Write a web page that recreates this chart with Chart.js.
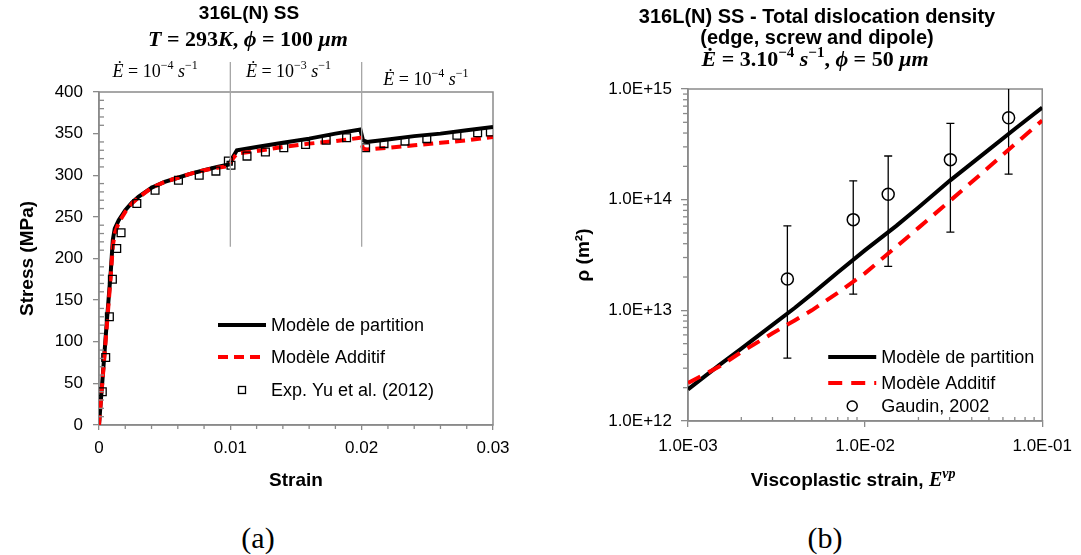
<!DOCTYPE html>
<html>
<head>
<meta charset="utf-8">
<script src="https://cdn.jsdelivr.net/npm/chart.js@4/dist/chart.umd.min.js"></script>
<style>
  html, body { margin: 0; padding: 0; background: #fff; width: 1081px; height: 555px; overflow: hidden; position: relative; }
  canvas { position: absolute; top: 0; }
  #stress { left: 0; }
  #density { left: 540px; }
  .lab { position: absolute; top: 521px; width: 80px; text-align: center; font: 30px 'Liberation Serif', serif; color: #000; }
</style>
</head>
<body>
<canvas id="stress" width="540" height="510"></canvas>
<canvas id="density" width="541" height="510"></canvas>
<div class="lab" style="left:218px">(a)</div>
<div class="lab" style="left:785px">(b)</div>
<script>
// (a) stress-strain, strain rate jumps at 0.01 and 0.02
const modelStrain = [0, 0.0003, 0.0006, 0.0009, 0.00105, 0.0012, 0.0015, 0.002, 0.0025, 0.003, 0.004, 0.005, 0.006, 0.007, 0.008, 0.009, 0.0099, 0.0102, 0.0105, 0.012, 0.014, 0.016, 0.018, 0.0199, 0.0201, 0.0204, 0.022, 0.024, 0.026, 0.028, 0.03]
const partitionStress = [0, 62, 125, 185, 222, 236, 246, 258, 267, 274, 285, 292, 297, 302, 306, 310, 313, 322, 330, 334, 339, 344, 350, 355, 342, 340, 343, 347, 350, 354, 358]
const additiveStress = [0, 60, 120, 180, 215, 230, 243, 256, 266, 273, 285, 292, 297, 302, 306, 309, 311, 320, 326, 329, 334, 338, 341, 345, 332, 331, 333, 336, 339, 342, 346]
const expStrain = [0.00025, 0.00051, 0.00079, 0.00102, 0.00135, 0.00168, 0.00288, 0.00427, 0.00605, 0.00763, 0.0089, 0.00985, 0.01005, 0.01127, 0.01267, 0.01407, 0.01573, 0.0173, 0.01885, 0.0203, 0.0217, 0.0233, 0.02496, 0.02725, 0.02883, 0.0298]
const expStress = [40, 81, 130, 175, 212, 231, 266, 282, 294, 300, 305, 317, 312, 323, 328, 333, 337, 342, 345, 333, 338, 341, 344, 348, 351, 352]
const rateLabels = ['10', '10', '10']
const rateExponents = ['−4', '−3', '−4']
const ratePositions = [0.00427, 0.01443, 0.02489]
const rateJumps = [0.01, 0.02]

// (b) total dislocation density, log-log
const rhoStrain = [0.001, 0.0015, 0.002, 0.003, 0.004, 0.005, 0.007, 0.01, 0.015, 0.02, 0.03, 0.05, 0.07, 0.1]
const rhoPartition = [1.93e12, 3.2e12, 4.5e12, 7.4e12, 1.05e13, 1.4e13, 2.2e13, 3.5e13, 5.8e13, 8.5e13, 1.48e14, 2.83e14, 4.35e14, 6.8e14]
const rhoAdditive = [2.2e12, 3.1e12, 4.2e12, 6.2e12, 8.1e12, 1.0e13, 1.44e13, 2.17e13, 3.76e13, 5.56e13, 9.7e13, 1.97e14, 3.16e14, 5.2e14]
const gaudinStrain = [0.00364, 0.00857, 0.0135, 0.0303, 0.0646]
const gaudinRho = [1.92e13, 6.6e13, 1.12e14, 2.3e14, 5.5e14]
const gaudinLow = [3.7e12, 1.4e13, 2.5e13, 5.1e13, 1.7e14]
const gaudinHigh = [5.8e13, 1.48e14, 2.48e14, 4.9e14, 1.2e15]

const gray = '#8a8a8a'
const sans = "'Liberation Sans', Arial, sans-serif"
const serif = "'Liberation Serif', 'DejaVu Serif', serif"

const zip = (xs, ys) => xs.map((x, i) => ({ x, y: ys[i] }))
const run = (text, size, style = '', dy = 0) => ({ text, font: `${style} ${size}px ${serif}`, dy })
const sci = v => {
  const e = Math.round(Math.log10(v))
  return '1.0E' + (e < 0 ? '-' : '+') + String(Math.abs(e)).padStart(2, '0')
}

function drawRuns (ctx, runs, cx, cy) {
  let total = 0
  runs.forEach(r => {
    ctx.font = r.font
    r.w = ctx.measureText(r.text).width
    total += r.w
  })
  let x = cx - total / 2
  ctx.textAlign = 'left'
  ctx.textBaseline = 'middle'
  ctx.fillStyle = '#000'
  runs.forEach(r => {
    ctx.font = r.font
    ctx.fillText(r.text, x, cy + r.dy)
    x += r.w
  })
}

function drawText (ctx, text, font, x, y, align = 'center') {
  ctx.font = font
  ctx.textAlign = align
  ctx.textBaseline = 'middle'
  ctx.fillStyle = '#000'
  ctx.fillText(text, x, y)
}

function tick (ctx, x1, y1, x2, y2) {
  ctx.beginPath()
  ctx.moveTo(x1, y1)
  ctx.lineTo(x2, y2)
  ctx.stroke()
}

// draws the legend inside the plot: rows of [sample, label]
function drawLegend (ctx, entries, x0, len, ys) {
  entries.forEach((e, i) => {
    const y = ys[i]
    ctx.save()
    ctx.strokeStyle = e.color
    ctx.lineWidth = e.width
    if (e.type === 'line') {
      ctx.setLineDash(e.dash || [])
      tick(ctx, x0, y, x0 + len, y)
    } else if (e.type === 'rect') {
      ctx.strokeRect(x0 + len / 2 - 3.5, y - 3.5, 7, 7)
    } else {
      ctx.beginPath()
      ctx.arc(x0 + len / 2, y, 5, 0, Math.PI * 2)
      ctx.stroke()
    }
    ctx.restore()
    drawText(ctx, e.label, `18px ${sans}`, x0 + len + 5, y + 1, 'left')
  })
}

const frame = {
  id: 'frame',
  beforeDatasetsDraw (chart) {
    const { ctx, chartArea: a } = chart
    ctx.save()
    ctx.strokeStyle = gray
    ctx.lineWidth = 1.5
    ctx.strokeRect(a.left, a.top, a.right - a.left, a.bottom - a.top)
    ctx.restore()
  }
}

const tickFont = { family: sans, size: 17 }
const gridStyle = len => ({ drawOnChartArea: false, drawTicks: true, tickLength: len, color: gray, lineWidth: 1.3 })

// ---------- (a) ----------
const stressDecor = {
  id: 'stressDecor',
  afterDraw (chart) {
    const { ctx, chartArea: a, scales: { x, y } } = chart
    ctx.save()
    ctx.strokeStyle = gray
    ctx.lineWidth = 1.3
    for (let v = 10; v < 400; v += 10) {
      if (v % 50 === 0) continue
      const py = y.getPixelForValue(v)
      tick(ctx, a.left, py, a.left + 5, py)
    }
    for (let k = 1; k < 15; k++) {
      if (k % 5 === 0) continue
      const px = x.getPixelForValue(k * 0.002)
      tick(ctx, px, a.bottom, px, a.bottom + 4)
    }
    ctx.strokeStyle = '#a6a6a6'
    rateJumps.forEach(v => {
      const px = x.getPixelForValue(v)
      tick(ctx, px, a.top - 30, px, y.getPixelForValue(214))
    })
    ctx.restore()

    ratePositions.forEach((v, i) => {
      const py = a.top - (i === 2 ? 12 : 20)
      drawRuns(ctx, [run('Ė', 18, 'italic'), run(' = ' + rateLabels[i], 18), run(rateExponents[i], 12, '', -6), run(' ', 18), run('s', 18, 'italic'), run('−1', 12, '', -6)], x.getPixelForValue(v), py)
    })

    drawText(ctx, '316L(N) SS', `bold 19px ${sans}`, 249, 14)
    drawRuns(ctx, [run('T', 22, 'italic bold'), run(' = 293', 22, 'bold'), run('K', 22, 'italic bold'), run(', ', 22, 'bold'), run('ϕ', 22, 'italic bold'), run(' = 100 ', 22, 'bold'), run('μm', 22, 'italic bold')], 248, 40)

    drawLegend(ctx, [
      { type: 'line', color: '#000', width: 4, label: 'Modèle de partition' },
      { type: 'line', color: '#ff0000', width: 4, dash: [10, 6], label: 'Modèle Additif' },
      { type: 'rect', color: '#000', width: 1.3, label: 'Exp. Yu et al. (2012)' }
    ], a.right - 275, 48, [a.bottom - 100, a.bottom - 68, a.bottom - 35])
  }
}

new Chart(document.getElementById('stress'), {
  type: 'line',
  data: {
    datasets: [
      {
        label: 'Exp. Yu et al. (2012)',
        data: zip(expStrain, expStress),
        showLine: false,
        pointStyle: 'rect',
        pointRadius: 5.5,
        pointBorderColor: '#000',
        pointBorderWidth: 1.3,
        pointBackgroundColor: 'rgba(0,0,0,0)'
      },
      {
        label: 'Modèle Additif',
        data: zip(modelStrain, additiveStress),
        borderColor: '#ff0000',
        borderWidth: 4,
        borderDash: [10, 6],
        pointRadius: 0,
        fill: false
      },
      {
        label: 'Modèle de partition',
        data: zip(modelStrain, partitionStress),
        borderColor: '#000',
        borderWidth: 4,
        pointRadius: 0,
        fill: false
      }
    ]
  },
  options: {
    responsive: false,
    animation: false,
    devicePixelRatio: 1,
    layout: { padding: { top: 92, left: 0, right: 47, bottom: 0 } },
    plugins: { legend: { display: false }, tooltip: { enabled: false } },
    scales: {
      x: {
        type: 'linear',
        min: 0,
        max: 0.03,
        afterFit: s => { s.height = 85 },
        ticks: { stepSize: 0.01, font: tickFont, color: '#000', padding: 8, callback: v => String(+v.toFixed(2)) },
        grid: gridStyle(5),
        border: { color: gray, width: 1.5 },
        title: { display: true, text: 'Strain', color: '#000', font: { family: sans, size: 19, weight: 'bold' }, padding: { top: 0, bottom: 18 } }
      },
      y: {
        min: 0,
        max: 400,
        afterFit: s => { s.width = 99 },
        ticks: { stepSize: 50, font: tickFont, color: '#000', padding: 10 },
        grid: gridStyle(6),
        border: { color: gray, width: 1.5 },
        title: { display: true, text: 'Stress (MPa)', color: '#000', font: { family: sans, size: 19, weight: 'bold' }, padding: { top: 16, bottom: 0 } }
      }
    }
  },
  plugins: [frame, stressDecor]
})

// ---------- (b) ----------
const densityDecor = {
  id: 'densityDecor',
  beforeDatasetsDraw (chart) {
    const { ctx, chartArea: a, scales: { x, y } } = chart
    ctx.save()
    ctx.beginPath()
    ctx.rect(a.left, a.top, a.right - a.left, a.bottom - a.top)
    ctx.clip()
    ctx.strokeStyle = '#000'
    ctx.lineWidth = 1.3
    gaudinStrain.forEach((v, i) => {
      const px = x.getPixelForValue(v)
      const top = y.getPixelForValue(gaudinHigh[i])
      const bottom = y.getPixelForValue(gaudinLow[i])
      tick(ctx, px, top, px, bottom)
      tick(ctx, px - 4, top, px + 4, top)
      tick(ctx, px - 4, bottom, px + 4, bottom)
    })
    ctx.restore()
  },
  afterDraw (chart) {
    const { ctx, chartArea: a, scales: { x, y } } = chart
    ctx.save()
    ctx.strokeStyle = gray
    ctx.lineWidth = 1.3
    for (let e = 12; e < 15; e++) {
      for (let m = 2; m < 10; m++) {
        const py = y.getPixelForValue(m * 10 ** e)
        tick(ctx, a.left - 5, py, a.left, py)
      }
    }
    for (let e = -3; e < -1; e++) {
      for (let m = 2; m < 10; m++) {
        const px = x.getPixelForValue(m * 10 ** e)
        tick(ctx, px, a.bottom, px, a.bottom - 4)
      }
    }
    ctx.restore()

    drawText(ctx, '316L(N) SS - Total dislocation density', `bold 20px ${sans}`, 277, 17)
    drawText(ctx, '(edge, screw and dipole)', `bold 20px ${sans}`, 277, 38)
    drawRuns(ctx, [run('Ė', 22, 'italic bold'), run(' = 3.10', 22, 'bold'), run('−4', 15, 'bold', -7), run(' ', 22, 'bold'), run('s', 22, 'italic bold'), run('−1', 15, 'bold', -7), run(', ', 22, 'bold'), run('ϕ', 22, 'italic bold'), run(' = 50 ', 22, 'bold'), run('μm', 22, 'italic bold')], 275, 60)

    const cx = (a.left + a.right) / 2 - 12
    drawRuns(ctx, [
      { text: 'Viscoplastic strain, ', font: `bold 19px ${sans}`, dy: 0 },
      run('E', 20, 'italic bold'),
      run('vp', 14, 'italic bold', -7)
    ], cx, 481)

    drawLegend(ctx, [
      { type: 'line', color: '#000', width: 4, label: 'Modèle de partition' },
      { type: 'line', color: '#ff0000', width: 4, dash: [14, 9], label: 'Modèle Additif' },
      { type: 'circle', color: '#000', width: 1.5, label: 'Gaudin, 2002' }
    ], a.right - 214, 48, [a.bottom - 64, a.bottom - 38, a.bottom - 15])
  }
}

new Chart(document.getElementById('density'), {
  type: 'line',
  data: {
    datasets: [
      {
        label: 'Gaudin, 2002',
        data: zip(gaudinStrain, gaudinRho),
        showLine: false,
        pointStyle: 'circle',
        pointRadius: 6,
        pointBorderColor: '#000',
        pointBorderWidth: 1.5,
        pointBackgroundColor: 'rgba(0,0,0,0)'
      },
      {
        label: 'Modèle Additif',
        data: zip(rhoStrain, rhoAdditive),
        borderColor: '#ff0000',
        borderWidth: 4,
        borderDash: [14, 9],
        pointRadius: 0,
        fill: false
      },
      {
        label: 'Modèle de partition',
        data: zip(rhoStrain, rhoPartition),
        borderColor: '#000',
        borderWidth: 4,
        pointRadius: 0,
        fill: false
      }
    ]
  },
  options: {
    responsive: false,
    animation: false,
    devicePixelRatio: 1,
    layout: { padding: { top: 89, left: 0, right: 37, bottom: 0 } },
    plugins: { legend: { display: false }, tooltip: { enabled: false } },
    scales: {
      x: {
        type: 'logarithmic',
        min: 0.001,
        max: 0.1,
        afterFit: s => { s.height = 89 },
        afterBuildTicks: s => { s.ticks = [0.001, 0.01, 0.1].map(value => ({ value })) },
        ticks: { autoSkip: false, font: tickFont, color: '#000', padding: 9, callback: v => sci(v) },
        grid: gridStyle(6),
        border: { color: gray, width: 1.5 }
      },
      y: {
        type: 'logarithmic',
        min: 1e12,
        max: 1e15,
        afterFit: s => { s.width = 148 },
        afterBuildTicks: s => { s.ticks = [1e12, 1e13, 1e14, 1e15].map(value => ({ value })) },
        ticks: { autoSkip: false, font: tickFont, color: '#000', padding: 9, callback: v => sci(v) },
        grid: gridStyle(7),
        border: { color: gray, width: 1.5 },
        title: { display: true, text: 'ρ (m²)', color: '#000', font: { family: sans, size: 19, weight: 'bold' }, padding: { top: 32, bottom: 0 } }
      }
    }
  },
  plugins: [frame, densityDecor]
})
</script>
</body>
</html>
